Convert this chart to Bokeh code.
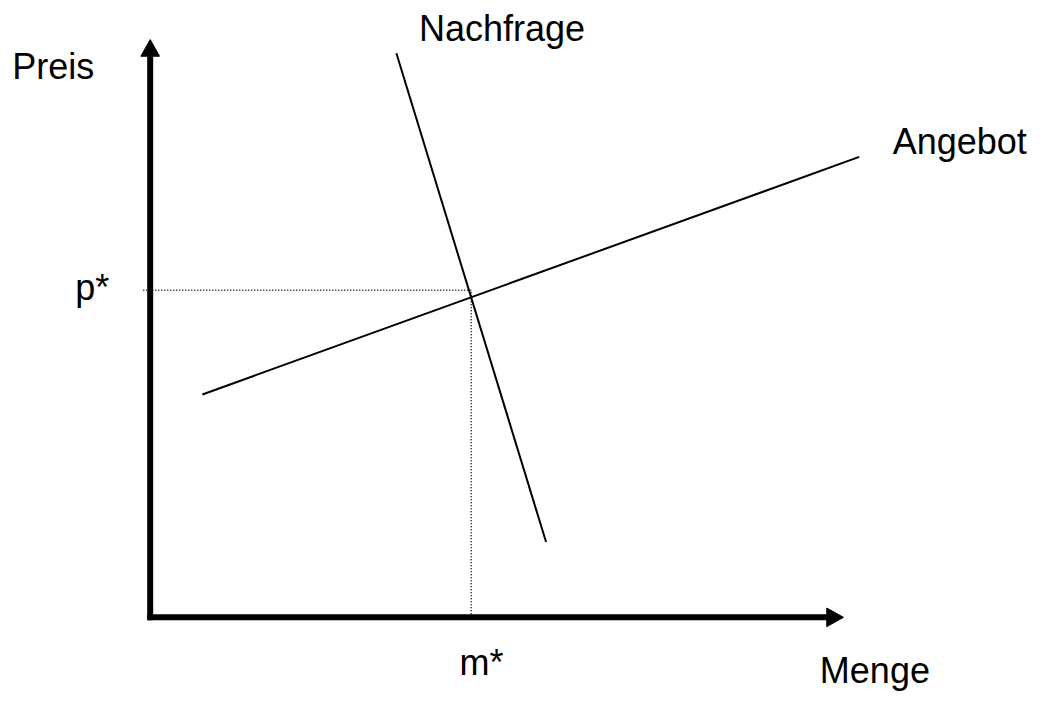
from bokeh.plotting import figure
from bokeh.models import Range1d
from bokeh.embed import file_html
from bokeh.resources import INLINE
from bokeh.core.properties import value

# Coordinates: Menge (x) and Preis (y), origin at the axes' corner
supply_x = [53, 720]
supply_y = [228, 471]
demand_x = [250, 402]
demand_y = [577, 77]
p_star = 334.5
m_star = 326
y_axis_top = 591
x_axis_end = 704

labels = ["Preis", "Nachfrage", "Angebot", "p*", "m*", "Menge"]
label_x = [-140, 273, 754, -76, 314, 680]
label_y = [552, 591, 476, 326, -57, -66]

p = figure(width=1036, height=697, x_range=Range1d(-152, 900), y_range=Range1d(-82, 631),
           output_backend="svg", toolbar_location=None, min_border=0)
p.axis.visible = False
p.grid.visible = False
p.outline_line_color = None
p.background_fill_color = "white"
p.border_fill_color = "white"

# dotted guide lines
p.line([-7, m_star], [p_star, p_star], line_color="black", line_width=1.5, line_dash="1 2")
p.line([m_star, m_star], [0, p_star], line_color="black", line_width=1.5, line_dash="1 2")

# axes
ah = 17
aw = 9.5
p.line([0, 0], [-3, y_axis_top - ah], line_color="black", line_width=6)
p.line([-3, x_axis_end - ah], [0, 0], line_color="black", line_width=6)
p.patches([[-aw, aw, 0], [x_axis_end - ah, x_axis_end - ah, x_axis_end]],
          [[y_axis_top - ah, y_axis_top - ah, y_axis_top], [aw, -aw, 0]],
          fill_color="black", line_color="black", line_width=1)

# curves
p.line(supply_x, supply_y, line_color="black", line_width=2)
p.line(demand_x, demand_y, line_color="black", line_width=2)

p.text(label_x, label_y, text=labels, text_font=value("Liberation Sans"), y_offset=-11,
       text_font_size="36px", text_color="black", text_align="left", text_baseline="alphabetic")

open("out.html", "w").write(file_html(p, INLINE))
